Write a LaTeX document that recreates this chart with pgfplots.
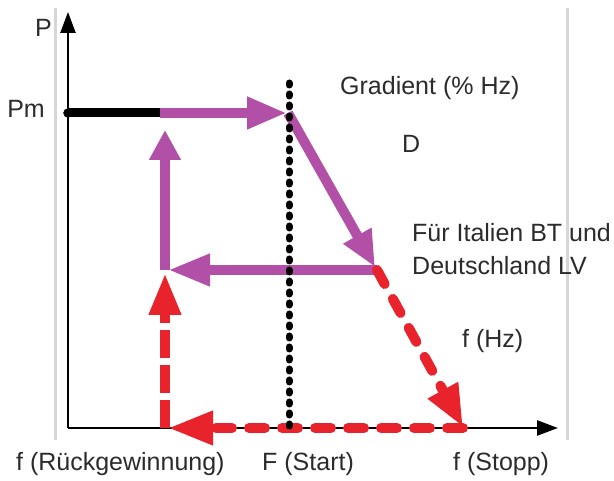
\documentclass[border=0pt]{standalone}
\usepackage{fontspec}
\setmainfont{Liberation Sans}
\usepackage{pgfplots}
\pgfplotsset{compat=1.18}
\usetikzlibrary{arrows.meta}

\definecolor{mag}{HTML}{B24FA6}
\definecolor{rd}{HTML}{E8232B}
\definecolor{txt}{HTML}{2B2B2B}
\definecolor{frame}{HTML}{D6D6D6}

\begin{document}
\begin{tikzpicture}[lbl/.style={font=\fontsize{25}{30}\selectfont, text=txt, inner sep=0pt}]
\begin{axis}[scale only axis, width=614pt, height=481pt,
  xmin=-68, xmax=546, ymin=-53, ymax=428, hide axis, clip=false,
  magline/.style={mag, line width=10pt, line join=round},
  redline/.style={rd, line width=10pt, line cap=round, dash pattern=on 16pt off 17pt},
  redvert/.style={rd, line width=10pt, dash pattern=on 28pt off 7pt}]

\path[use as bounding box] (rel axis cs:0,0) rectangle (rel axis cs:1,1);

% light frame at both sides
\addplot[frame, line width=3pt] coordinates {(-13,420) (-13,-12)};
\addplot[frame, line width=3pt] coordinates {(499,420) (499,-12)};

% axes
\addplot[black, line width=2.5pt, -{Triangle[length=21pt,width=15pt]}] coordinates {(0,0) (0,416)};
\addplot[black, line width=2.5pt, -{Triangle[length=21pt,width=15pt]}] coordinates {(0,0) (490,0)};

% Pm level
\addplot[black, line width=9pt] coordinates {(0,315) (92,315)};
\addplot[only marks, mark=*, mark size=4.5pt, black] coordinates {(0,315)};

% magenta path
\addplot[magline, -{Triangle[length=40pt,width=30pt]}] coordinates {(92,315) (219,315)};
\addplot[magline, -{Triangle[length=36pt,width=30pt]}] coordinates {(220,315) (307,161)};
\addplot[magline, -{Triangle[length=42pt,width=30pt]}] coordinates {(309,158) (100,158)};
\addplot[magline, -{Triangle[length=30pt,width=30pt]}] coordinates {(97,158) (97,298)};

% red dashed path
\addplot[redline, -{Triangle[length=42pt,width=32pt]}] coordinates {(309,158) (395,1)};
\addplot[redline, -{Triangle[length=45pt,width=32pt]}] coordinates {(395,0) (100,0)};
\addplot[redvert, -{Triangle[length=42pt,width=30pt]}] coordinates {(97,0) (97,155)};

% F (Start)
\addplot[black, line width=7pt, line cap=round, dash pattern=on 2pt off 9pt] coordinates {(221,345) (221,0)};

% texts
\node[lbl, anchor=base east] at (axis cs:-16,391) {P};
\node[lbl, anchor=base east] at (axis cs:-23,310) {Pm};
\node[lbl, anchor=base west] at (axis cs:272,333) {Gradient (\% Hz)};
\node[lbl, anchor=base west] at (axis cs:334,275) {D};
\node[lbl, anchor=base west] at (axis cs:344,186) {Für Italien BT und};
\node[lbl, anchor=base west] at (axis cs:344,153) {Deutschland LV};
\node[lbl, anchor=base west] at (axis cs:394,80) {f (Hz)};
\node[lbl, anchor=base west] at (axis cs:-52,-43) {f (Rückgewinnung)};
\node[lbl, anchor=base west] at (axis cs:194,-43) {F (Start)};
\node[lbl, anchor=base west] at (axis cs:385,-43) {f (Stopp)};
\end{axis}
\end{tikzpicture}
\end{document}
